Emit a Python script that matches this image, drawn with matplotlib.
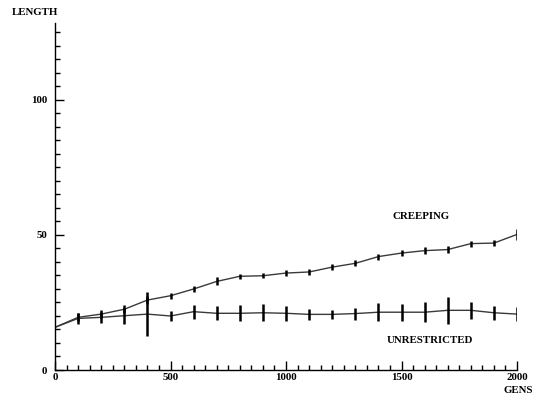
import matplotlib
matplotlib.use("Agg")
import matplotlib.pyplot as plt
from matplotlib.ticker import MultipleLocator

gens = [0, 100, 200, 300, 400, 500, 600, 700, 800, 900, 1000,
        1100, 1200, 1300, 1400, 1500, 1600, 1700, 1800, 1900, 2000]
creeping = [15.8, 19.5, 20.7, 22.5, 25.9, 27.5, 30.0, 32.8, 34.7, 34.9, 35.9,
            36.3, 38.1, 39.5, 42.0, 43.3, 44.2, 44.6, 46.8, 47.0, 50.2]
creeping_err = [0, 1.5, 1.5, 1.5, 1.5, 1.1, 1.2, 1.5, 0.9, 1.0, 1.2,
                1.2, 1.0, 1.1, 1.1, 1.1, 1.4, 1.4, 1.1, 1.1, 2.0]
unrestricted = [15.8, 19.1, 19.5, 20.1, 20.7, 20.0, 21.6, 21.0, 21.0, 21.2, 21.0,
                20.6, 20.6, 20.9, 21.4, 21.4, 21.4, 22.1, 22.1, 21.2, 20.7]
unrestricted_err = [0, 2.0, 2.0, 3.0, 8.1, 1.7, 2.6, 2.6, 2.9, 3.2, 2.7,
                    2.0, 1.8, 2.2, 3.4, 3.1, 3.6, 5.0, 3.2, 2.6, 2.7]

font = "Liberation Serif"
fs = 7.8
fig = plt.figure(figsize=(5.44, 4.03), dpi=100)
ax = fig.add_axes([55/544, 33/403, 462/544, 347/403])

for y, e in ((creeping, creeping_err), (unrestricted, unrestricted_err)):
    ax.plot(gens, y, color="#3a3a3a", lw=1.0)
    ax.errorbar(gens[1:], y[1:], yerr=e[1:], fmt="none", ecolor="black",
                elinewidth=1.8, capsize=0)

ax.set_xlim(0, 2000)
ax.set_ylim(0, 128.5)
for s in ("top", "right"):
    ax.spines[s].set_visible(False)
for s in ("left", "bottom"):
    ax.spines[s].set_linewidth(1.0)

ax.xaxis.set_major_locator(MultipleLocator(500))
ax.xaxis.set_minor_locator(MultipleLocator(50))
ax.yaxis.set_major_locator(MultipleLocator(50))
ax.yaxis.set_minor_locator(MultipleLocator(5))
ax.tick_params(which="major", direction="in", length=6.5, width=1.0)
ax.tick_params(which="minor", direction="in", length=3.6, width=1.0)
ax.tick_params(axis="x", pad=2)
ax.tick_params(axis="y", pad=5.5)
for lab in ax.get_xticklabels() + ax.get_yticklabels():
    lab.set_fontfamily(font)
    lab.set_fontweight("bold")
    lab.set_fontsize(fs)

fig.text(12/544, 1 - 15/403, "LENGTH", fontfamily=font, fontweight="bold",
         fontsize=fs, ha="left", va="baseline")
fig.text(518/544, 1 - 393/403, "GENS", fontfamily=font, fontweight="bold",
         fontsize=fs, ha="center", va="baseline")
ax.text(1584, 56.7, "CREEPING", fontfamily=font, fontweight="bold",
        fontsize=fs, ha="center", va="center")
ax.text(1623, 11.1, "UNRESTRICTED", fontfamily=font, fontweight="bold",
        fontsize=fs, ha="center", va="center")

fig.savefig("out.png", dpi=100)
